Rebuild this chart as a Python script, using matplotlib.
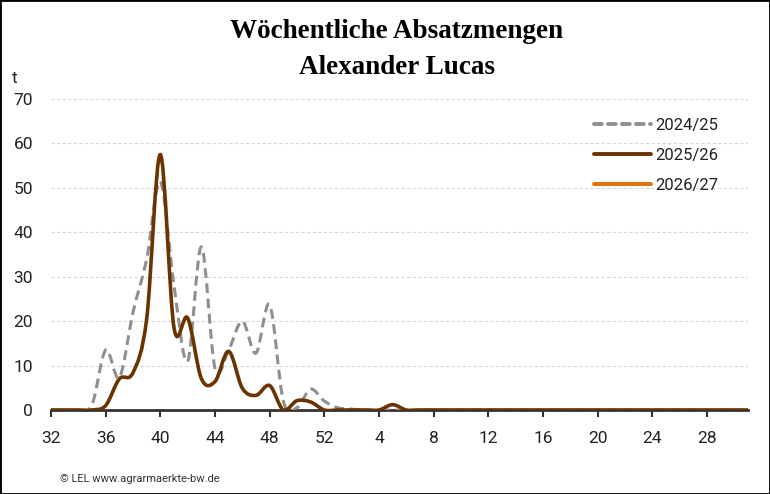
import matplotlib.pyplot as plt
from matplotlib.path import Path
from matplotlib.patches import PathPatch, Rectangle
from matplotlib.lines import Line2D

# weeks of the marketing season: KW 32 .. 52, then KW 1 .. 31
weeks = list(range(32, 53)) + list(range(1, 32))

# t per week
sales_2024 = [0, 0, 0, 1.2, 13.5, 7.3, 22, 34, 51.4, 28, 11, 36.7, 9.4, 13.5, 20, 12.8, 23.7, 2, 0.5, 4.7, 2,
              0.5, 0.2, 0, 0, 0, 0, 0, 0, 0, 0, 0, 0, 0, 0, 0, 0, 0, 0, 0, 0, 0, 0, 0, 0, 0, 0, 0, 0, 0, 0, 0]
sales_2025 = [0, 0, 0, 0, 1, 7, 8.4, 20.5, 57.5, 18.5, 20.7, 7.1, 6.4, 13.2, 4.9, 3.3, 5.5, 0, 2.1, 1.8, 0,
              0, 0, 0, 0, 1.2, 0, 0, 0, 0, 0, 0, 0, 0, 0, 0, 0, 0, 0, 0, 0, 0, 0, 0, 0, 0, 0, 0, 0, 0, 0, 0]
sales_2026 = []

labels = ["2024/25", "2025/26", "2026/27"]
colors = ["#8f8f8f", "#6b3300", "#e07000"]


def smooth_path(values):
    # Excel style smoothed line: cubic Bezier segments through each point
    pts = list(enumerate(values))
    verts = [pts[0]]
    codes = [Path.MOVETO]
    n = len(pts)
    for i in range(n - 1):
        p0 = pts[max(i - 1, 0)]
        p1 = pts[i]
        p2 = pts[i + 1]
        p3 = pts[min(i + 2, n - 1)]
        c1 = (p1[0] + (p2[0] - p0[0]) / 6, p1[1] + (p2[1] - p0[1]) / 6)
        c2 = (p2[0] - (p3[0] - p1[0]) / 6, p2[1] - (p3[1] - p1[1]) / 6)
        verts += [c1, c2, p2]
        codes += [Path.CURVE4] * 3
    return Path(verts, codes)


fig = plt.figure(figsize=(7.7, 4.94), dpi=100)
ax = fig.add_axes([51 / 770, 1 - 410 / 494, 697 / 770, 311 / 494])

ax.add_patch(PathPatch(smooth_path(sales_2024), fill=False, edgecolor=colors[0], lw=2.2,
                       linestyle=(0, (3.2, 1.8)), zorder=3))
ax.add_patch(PathPatch(smooth_path(sales_2025), fill=False, edgecolor=colors[1], lw=2.6,
                       capstyle="round", joinstyle="round", zorder=4))
if sales_2026:
    ax.add_patch(PathPatch(smooth_path(sales_2026), fill=False, edgecolor=colors[2], lw=2.6, zorder=5))

ax.set_xlim(0, len(weeks) - 1)
ax.set_ylim(0, 70)

ax.set_xticks(range(0, len(weeks), 4))
ax.set_xticklabels([str(weeks[i]) for i in range(0, len(weeks), 4)])
ax.set_yticks(range(0, 71, 10))

tick_font = ["Liberation Sans Narrow", "Roboto", "DejaVu Sans"]
for lab in ax.get_xticklabels() + ax.get_yticklabels():
    lab.set_family(tick_font)
    lab.set_fontsize(12.5)
    lab.set_color("#222222")

ax.tick_params(axis="x", length=5, width=1.5, color="#333333", pad=10)
ax.tick_params(axis="y", length=0, pad=13)

ax.grid(axis="y", color="#d9d9d9", lw=0.8, linestyle=(0, (3, 2)))
ax.set_axisbelow(True)
for s in ["top", "right", "left"]:
    ax.spines[s].set_visible(False)
ax.spines["bottom"].set_color("#333333")
ax.spines["bottom"].set_linewidth(2)
ax.spines["bottom"].set_zorder(2)

handles = [
    Line2D([], [], color=colors[0], lw=2.8, linestyle=(0, (2.0, 1.6)), dash_capstyle="round"),
    Line2D([], [], color=colors[1], lw=2.8, solid_capstyle="round"),
    Line2D([], [], color=colors[2], lw=2.8, solid_capstyle="round"),
]
ax.legend(handles, labels, loc="upper left", bbox_to_anchor=(0.779, 0.94), frameon=False,
          prop={"family": "Roboto", "size": 12}, handlelength=3.4, handletextpad=0.3,
          labelspacing=0.9, borderpad=0, borderaxespad=0, labelcolor="#222222")

fig.text(397 / 770, 1 - 32 / 494, "Wöchentliche Absatzmengen", ha="center", va="center",
         family="Liberation Serif", weight="bold", fontsize=19.5)
fig.text(397 / 770, 1 - 67 / 494, "Alexander Lucas", ha="center", va="center",
         family="Liberation Serif", weight="bold", fontsize=19.5)
fig.text(12 / 770, 1 - 78 / 494, "t", ha="left", va="center", family=tick_font, fontsize=12.5,
         color="#222222")
fig.text(60 / 770, 1 - 479 / 494, "© LEL www.agrarmaerkte-bw.de", ha="left", va="center",
         family="Roboto", fontsize=8, color="#333333")

fig.patches.append(Rectangle((0, 0), 1, 1, transform=fig.transFigure, fill=False,
                             edgecolor="black", lw=2))

fig.savefig("out.png", dpi=100)
